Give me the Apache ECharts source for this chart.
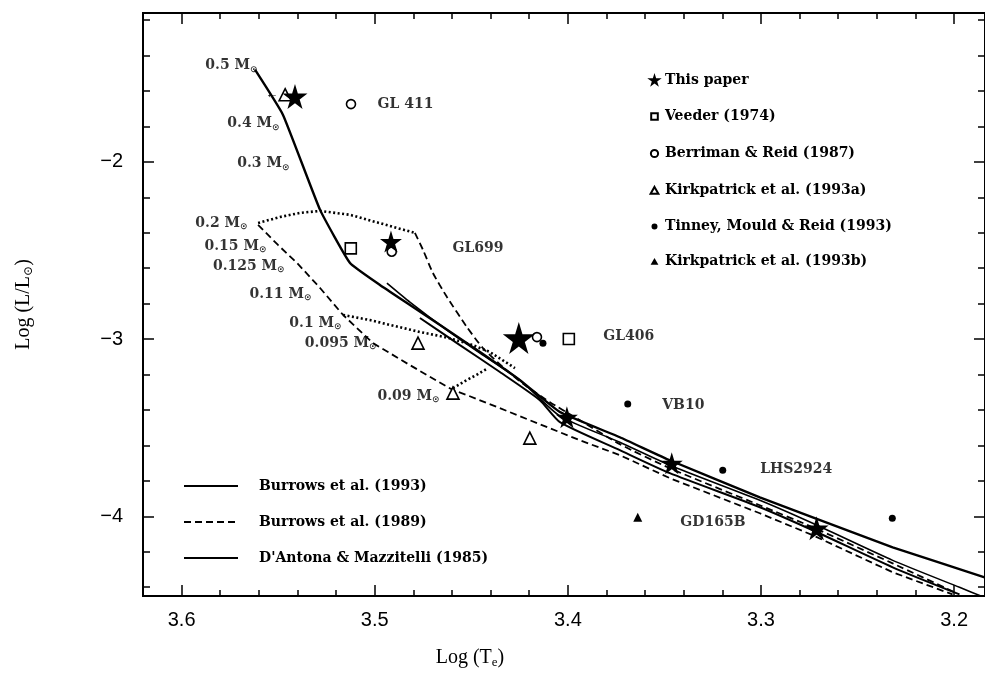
<!DOCTYPE html>
<html>
<head>
<meta charset="utf-8">
<script src="https://cdn.jsdelivr.net/npm/echarts@6/dist/echarts.min.js"></script>
<style>html,body{margin:0;padding:0;background:#fff}#c{width:985px;height:685px}</style>
</head>
<body>
<div id="c"></div>
<script>
// ---------- axis ticks ----------
const xMajorTicks = [3.2, 3.3, 3.4, 3.5, 3.6];
const xMinorTicks = [3.2,3.22,3.24,3.26,3.28,3.3,3.32,3.34,3.36,3.38,3.4,3.42,3.44,3.46,3.48,3.5,3.52,3.54,3.56,3.58,3.6,3.62];
const yMajorTicks = [-4, -3, -2];
const yMinorTicks = [-4.4,-4.2,-4.0,-3.8,-3.6,-3.4,-3.2,-3.0,-2.8,-2.6,-2.4,-2.2,-2.0,-1.8,-1.6,-1.4,-1.2];

// ---------- model curves [logTe, logL] ----------
const burrows93a = [[3.562,-1.480],[3.5475,-1.735],[3.5283,-2.271],[3.5128,-2.571],[3.4973,-2.695],[3.4833,-2.797],[3.4662,-2.921],[3.4455,-3.073],[3.4248,-3.232],[3.4041,-3.412],[3.3731,-3.554],[3.3472,-3.684],[3.3006,-3.893],[3.2732,-4.006],[3.2318,-4.175],[3.1842,-4.345]];
const burrows93b = [[3.4766,-2.881],[3.4559,-3.034],[3.4352,-3.186],[3.4145,-3.345],[3.4041,-3.469],[3.3731,-3.627],[3.3472,-3.757],[3.3006,-3.949],[3.2732,-4.079],[3.2318,-4.288],[3.1972,-4.441]];
const dantona85 = [[3.4937,-2.684],[3.4818,-2.791],[3.4626,-2.949],[3.4455,-3.079],[3.4248,-3.232],[3.4041,-3.435],[3.3731,-3.582],[3.3472,-3.712],[3.3006,-3.910],[3.2732,-4.040],[3.2318,-4.249],[3.1972,-4.401],[3.1842,-4.458]];
const burrows89a = [[3.4792,-2.401],[3.475,-2.497],[3.4699,-2.627],[3.4626,-2.763],[3.4523,-2.932],[3.444,-3.051],[3.4336,-3.158],[3.4223,-3.260],[3.4093,-3.356],[3.3964,-3.441],[3.3731,-3.593],[3.3472,-3.729],[3.3006,-3.938],[3.2732,-4.062],[3.2318,-4.266],[3.1997,-4.429]];
const burrows89b = [[3.5604,-2.356],[3.5501,-2.469],[3.5402,-2.571],[3.5283,-2.712],[3.5164,-2.864],[3.5009,-3.023],[3.4818,-3.147],[3.4595,-3.288],[3.4523,-3.316],[3.4352,-3.390],[3.4197,-3.458],[3.3938,-3.571],[3.3731,-3.655],[3.3472,-3.785],[3.3006,-3.983],[3.2732,-4.107],[3.2318,-4.316],[3.2008,-4.441]];
const isoTop = [[3.5604,-2.345],[3.549,-2.311],[3.5387,-2.288],[3.5283,-2.277],[3.5128,-2.299],[3.4921,-2.362],[3.4792,-2.401]];
const isoMid = [[3.5164,-2.864],[3.5025,-2.893],[3.4895,-2.927],[3.4766,-2.960],[3.4636,-2.989],[3.4507,-3.028],[3.4404,-3.073],[3.4274,-3.164]];
const isoLow = [[3.4595,-3.277],[3.4533,-3.237],[3.4466,-3.198],[3.4414,-3.164]];

// ---------- observations ----------
const thisPaper = [[3.5413,-1.631],[3.4916,-2.450],[3.4254,-2.994],[3.4005,-3.441],[3.3462,-3.701],[3.2712,-4.068]];
const thisPaperSize = [25, 22, 32, 22, 22, 24];
const veeder = [[3.5124,-2.488],[3.3995,-3.000]];
const berriman = [[3.5123,-1.674],[3.4912,-2.507],[3.416,-2.989]];
const kirk93a = [[3.5464,-1.621],[3.4776,-3.023],[3.4595,-3.305],[3.4197,-3.559]];
const tinney = [[3.4129,-3.023],[3.369,-3.367],[3.3198,-3.740],[3.232,-4.011]];
const kirk93b = [[3.3638,-4.006]];

// ---------- annotations ----------
const massLabels = [[3.5604,-1.458,'0.5'],[3.549,-1.785,'0.4'],[3.5439,-2.011,'0.3'],[3.5656,-2.345,'0.2'],[3.5558,-2.475,'0.15'],[3.5464,-2.588,'0.125'],[3.5325,-2.746,'0.11'],[3.5169,-2.910,'0.1'],[3.4988,-3.023,'0.095'],[3.4662,-3.322,'0.09']];
const starNames = [[3.4988,-1.678,'GL 411'],[3.46,-2.486,'GL699'],[3.3819,-2.983,'GL406'],[3.3514,-3.373,'VB10'],[3.3007,-3.734,'LHS2924'],[3.342,-4.034,'GD165B']];

const curveNames = ['Burrows et al. (1993)', 'Burrows et al. (1989)', "D'Antona & Mazzitelli (1985)"];
const obsNames = ['This paper', 'Veeder (1974)', 'Berriman & Reid (1987)', 'Kirkpatrick et al. (1993a)', 'Tinney, Mould & Reid (1993)', 'Kirkpatrick et al. (1993b)'];

const STAR = 'path://M50,0 L61,35 L98,35 L68,57 L79,91 L50,70 L21,91 L32,57 L2,35 L39,35 Z';
// legend icons: small glyphs inside a 100x100 box
const BOX = 'M0,0 Z M100,100 Z ';
const legendIcons = [
  'path://M0,4 Z M100,100 Z M50,0 L61,35 L98,35 L68,57 L79,91 L50,70 L21,91 L32,57 L2,35 L39,35 Z',
  'path://' + BOX + 'M28,28 L72,28 L72,72 L28,72 Z',
  'path://' + BOX + 'M26,50 A24,24 0 1,1 74,50 A24,24 0 1,1 26,50 Z',
  'path://' + BOX + 'M50,26 L76,72 L24,72 Z',
  'path://' + BOX + 'M30,50 A20,20 0 1,1 70,50 A20,20 0 1,1 30,50 Z',
  'path://' + BOX + 'M50,26 L76,72 L24,72 Z'
];
const XMIN = 3.184, XMAX = 3.62, YMIN = -4.45, YMAX = -1.16;
const annFont = {fontFamily: 'DejaVu Serif', fontWeight: 'bold', fontSize: 14, color: '#000'};

function xAx(pos, ticks, len, labels) {
  return {
    type: 'value', position: pos, min: XMIN, max: XMAX, inverse: true,
    axisLine: {show: true, onZero: false, lineStyle: {color: '#000', width: 2}},
    axisTick: {show: true, inside: true, length: len, customValues: ticks, lineStyle: {color: '#000', width: 1.5}},
    axisLabel: labels ? {show: true, customValues: xMajorTicks, margin: 14, fontFamily: 'Liberation Sans', fontSize: 20, color: '#000', formatter: v => v.toFixed(1)} : {show: false},
    splitLine: {show: false},
    name: labels ? 'Log (T{e|e})' : '',
    nameLocation: 'middle', nameGap: 50,
    nameTextStyle: {fontFamily: 'Liberation Serif', fontSize: 20, color: '#000', padding: [0, 188, 0, 0],
      rich: {e: {fontFamily: 'Liberation Serif', fontSize: 13, padding: [10, 0, 0, 0]}}}
  };
}
function yAx(pos, ticks, len, labels) {
  return {
    type: 'value', position: pos, min: YMIN, max: YMAX,
    axisLine: {show: true, onZero: false, lineStyle: {color: '#000', width: 2}},
    axisTick: {show: true, inside: true, length: len, customValues: ticks, lineStyle: {color: '#000', width: 1.5}},
    axisLabel: labels ? {show: true, customValues: yMajorTicks, margin: 20, fontFamily: 'Liberation Sans', fontSize: 20, color: '#000', formatter: v => '\u2212' + Math.abs(v)} : {show: false},
    splitLine: {show: false},
    name: labels ? 'Log (L/L{s|\u2299})' : '',
    nameLocation: 'middle', nameGap: 108, nameRotate: 90,
    nameTextStyle: {fontFamily: 'Liberation Serif', fontSize: 20, color: '#000',
      rich: {s: {fontFamily: 'DejaVu Serif', fontSize: 12, padding: [10, 0, 0, 0]}}}
  };
}

function curve(name, data, type, width, smooth) {
  return {
    type: 'line', name: name, data: data, symbol: 'none', showSymbol: false, smooth: smooth, clip: true,
    lineStyle: {color: '#000', width: width, type: type},
    itemStyle: {color: '#000'}, z: 3, silent: true
  };
}
function obs(name, data, symbol, size, filled) {
  return {
    type: 'scatter', name: name, data: data, symbol: symbol, symbolSize: size,
    itemStyle: filled ? {color: '#000', opacity: 1} : {color: '#fff', borderColor: '#000', borderWidth: 1.6, opacity: 1},
    z: 5, silent: true
  };
}

const chart = echarts.init(document.getElementById('c'));
chart.setOption({
  animation: false,
  backgroundColor: '#fff',
  grid: {left: 143, top: 13, right: 0, bottom: 89},
  xAxis: [xAx('bottom', xMinorTicks, 6, true), xAx('bottom', xMajorTicks, 11, false), xAx('top', xMinorTicks, 6, false), xAx('top', xMajorTicks, 11, false)],
  yAxis: [yAx('left', yMinorTicks, 7, true), yAx('left', yMajorTicks, 11, false), yAx('right', yMinorTicks, 7, false), yAx('right', yMajorTicks, 11, false)],
  legend: [
    {
      data: curveNames.map(n => ({name: n, itemStyle: {opacity: 0}})),
      orient: 'vertical', left: 178, top: 474, itemWidth: 54, itemHeight: 14, itemGap: 22,
      textStyle: Object.assign({}, annFont, {padding: [0, 0, 0, 16]}), selectedMode: false
    },
    {
      data: obsNames.map((n, i) => ({name: n, icon: legendIcons[i]})),
      orient: 'vertical', left: 641, top: 68, itemWidth: 15, itemHeight: 15, itemGap: 20,
      textStyle: Object.assign({}, annFont, {padding: [0, 0, 0, -2]}), selectedMode: false
    }
  ],
  series: [
    curve(curveNames[0], burrows93a, 'solid', 2.4, 0.12),
    curve(curveNames[0], burrows93b, 'solid', 2.0, 0.2),
    curve(curveNames[2], dantona85, 'solid', 1.6, 0.2),
    curve(curveNames[1], burrows89a, [7, 4], 1.8, 0.2),
    curve(curveNames[1], burrows89b, [7, 4], 1.8, false),
    curve('iso-top', isoTop, [2, 2.5], 2.6, false),
    curve('iso-mid', isoMid, [2, 2.5], 2.6, false),
    curve('iso-low', isoLow, [2, 2.5], 2.6, false),
    {
      type: 'scatter', name: obsNames[0], symbol: STAR,
      data: thisPaper.map((p, i) => ({value: p, symbolSize: thisPaperSize[i]})),
      symbolSize: 20, itemStyle: {color: '#000', opacity: 1}, z: 6, silent: true
    },
    obs(obsNames[1], veeder, 'rect', 11, false),
    obs(obsNames[2], berriman, 'circle', 9, false),
    obs(obsNames[3], kirk93a.map((p, i) => i === 0 ? {value: p, label: {show: true, position: 'left', distance: 0, formatter: '\u2190', fontSize: 13, color: '#000', fontWeight: 'bold'}} : {value: p}), 'triangle', 12, false),
    obs(obsNames[4], tinney, 'circle', 7, true),
    obs(obsNames[5], kirk93b, 'triangle', 9, true),
    {
      type: 'scatter', name: 'masses', symbolSize: 1, itemStyle: {color: 'rgba(0,0,0,0)'}, silent: true, z: 7,
      data: massLabels.map(m => ({value: [m[0], m[1]], name: m[2]})),
      label: {show: true, position: 'left', distance: 0,
        formatter: p => '{a|' + p.name + ' M}{s|\u2299}',
        rich: {a: annFont, s: {fontFamily: 'DejaVu Sans', fontSize: 9, fontWeight: 'bold', color: '#000', padding: [8, 0, 0, 0]}}}
    },
    {
      type: 'scatter', name: 'names', symbolSize: 1, itemStyle: {color: 'rgba(0,0,0,0)'}, silent: true, z: 7,
      data: starNames.map(m => ({value: [m[0], m[1]], name: m[2]})),
      label: Object.assign({show: true, position: 'right', distance: 0, formatter: p => p.name}, annFont)
    }
  ]
});
</script>
</body>
</html>
